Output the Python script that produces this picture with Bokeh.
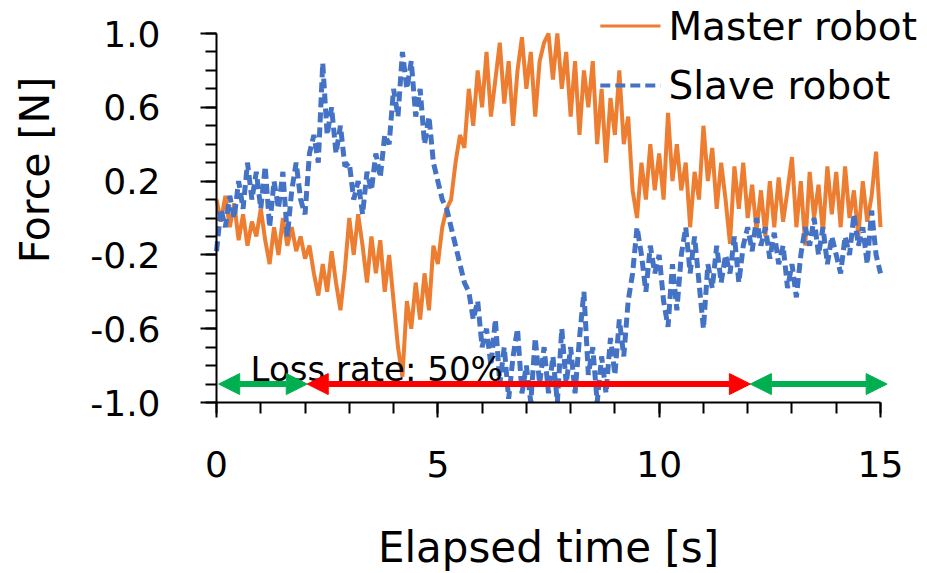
import math
from bokeh.plotting import figure
from bokeh.models import (Range1d, FixedTicker, Arrow, NormalHead, Label, LinearAxis,
                          ColumnDataSource)
from bokeh.core.properties import value
from bokeh.embed import file_html
from bokeh.resources import INLINE

# ---------------- data ----------------
time_s = [round(i * 0.1, 1) for i in range(151)]

master_force = [
    0.10, -0.02, 0.12, -0.05, 0.08, -0.12, 0.02, -0.15, -0.02, -0.10,
    0.05, -0.12, -0.25, -0.05, -0.20, 0.00, -0.15, -0.05, -0.18, -0.10,
    -0.22, -0.15, -0.30, -0.42, -0.25, -0.40, -0.18, -0.35, -0.50, -0.28,
    0.00, -0.20, 0.02, -0.15, -0.35, -0.10, -0.30, -0.12, -0.40, -0.20,
    -0.45, -0.70, -0.86, -0.45, -0.60, -0.35, -0.55, -0.30, -0.50, -0.15,
    -0.25, -0.05, 0.05, 0.10, 0.30, 0.45, 0.38, 0.70, 0.50, 0.80,
    0.60, 0.90, 0.55, 0.75, 0.95, 0.62, 0.85, 0.50, 0.80, 0.98,
    0.70, 0.90, 0.55, 0.85, 0.95, 1.00, 0.75, 1.00, 0.70, 0.90,
    0.55, 0.85, 0.45, 0.80, 0.60, 0.85, 0.40, 0.70, 0.30, 0.65,
    0.45, 0.80, 0.40, 0.55, 0.15, 0.00, 0.30, 0.10, 0.40, 0.15,
    0.35, 0.10, 0.57, 0.20, 0.40, 0.15, 0.30, -0.05, 0.25, 0.10,
    0.50, 0.20, 0.38, 0.05, 0.30, 0.10, -0.14, 0.28, 0.05, 0.30,
    0.00, 0.18, -0.07, 0.15, -0.10, 0.20, -0.05, 0.22, -0.02, 0.15,
    0.33, -0.05, 0.20, -0.15, 0.25, 0.00, 0.18, -0.08, 0.28, 0.02,
    0.25, -0.05, 0.28, 0.00, 0.15, -0.10, 0.20, -0.02, 0.12, 0.36,
    -0.05,
]

slave_force = [
    -0.18, 0.05, -0.05, 0.12, 0.00, 0.20, 0.05, 0.30, 0.10, 0.25,
    0.05, 0.28, -0.05, 0.20, 0.05, 0.25, -0.10, 0.15, 0.30, 0.10,
    0.02, 0.35, 0.45, 0.30, 0.84, 0.45, 0.60, 0.35, 0.50, 0.28,
    0.30, 0.10, 0.20, 0.02, 0.25, 0.15, 0.35, 0.22, 0.45, 0.40,
    0.70, 0.55, 0.90, 0.70, 0.85, 0.55, 0.70, 0.40, 0.55, 0.30,
    0.20, 0.10, 0.05, -0.05, -0.15, -0.25, -0.35, -0.40, -0.55, -0.45,
    -0.70, -0.60, -0.80, -0.55, -0.90, -0.70, -0.98, -0.75, -0.60, -0.95,
    -0.80, -1.00, -0.65, -0.90, -0.70, -0.95, -0.75, -1.00, -0.60, -0.90,
    -0.70, -0.95, -0.65, -0.40, -0.85, -0.70, -1.00, -0.75, -0.95, -0.65,
    -0.85, -0.55, -0.75, -0.45, -0.30, -0.05, -0.20, -0.40, -0.15, -0.30,
    -0.20, -0.45, -0.59, -0.25, -0.50, -0.20, -0.05, -0.30, -0.10, -0.35,
    -0.60, -0.25, -0.38, -0.15, -0.35, -0.20, -0.30, -0.10, -0.35, -0.15,
    -0.05, -0.18, 0.00, -0.15, -0.05, -0.22, -0.08, -0.25, -0.15, -0.38,
    -0.25, -0.43, -0.20, -0.05, -0.15, 0.00, -0.20, -0.05, -0.25, -0.10,
    -0.20, -0.30, -0.10, -0.20, 0.02, -0.15, -0.05, -0.25, 0.04, -0.20,
    -0.30,
]

series_names = ["Master robot", "Slave robot"]
series_colors = ["#ED7D31", "#4472C4"]

x_limits = (0, 15)
y_limits = (-1.0, 1.0)
x_major_ticks = [0, 5, 10, 15]
x_minor_ticks = list(range(0, 16))
y_major_ticks = [-1.0, -0.6, -0.2, 0.2, 0.6, 1.0]
y_tick_labels = ["-1.0", "-0.6", "-0.2", "0.2", "0.6", "1.0"]
y_minor_ticks = [round(-1.0 + 0.1 * i, 1) for i in range(21)]

# phases: normal / loss / normal
phase_bounds = [0.05, 2.05, 12.06, 15.15]
phase_colors = ["#00B050", "#FF0000", "#00B050"]
arrow_level = -0.9
annotation_text = "Loss rate: 50%"

FONT = "DejaVu Sans"

# ---------------- layout ----------------
W, H = 927, 573
AX_L, AX_R, AX_T, AX_B = 216, 880, 33, 402          # pixel box of the axes
sx = (AX_R - AX_L) / (x_limits[1] - x_limits[0])
sy = (AX_B - AX_T) / (y_limits[1] - y_limits[0])
xr = Range1d(x_limits[0] - AX_L / sx, x_limits[1] + (W - AX_R) / sx)
yr = Range1d(y_limits[0] - (H - AX_B) / sy, y_limits[1] + AX_T / sy)

p = figure(width=W, height=H, output_backend="svg", toolbar_location=None,
           x_range=xr, y_range=yr, x_axis_location=None, y_axis_location=None,
           min_border=0)
p.outline_line_color = None
p.xgrid.visible = False
p.ygrid.visible = False
p.background_fill_color = "white"
p.border_fill_color = "white"

src = ColumnDataSource(dict(t=time_s, m=master_force, s=slave_force))
p.line("t", "m", source=src, line_color=series_colors[0], line_width=4)
p.line("t", "s", source=src, line_color=series_colors[1], line_width=5,
       line_dash="10 5")

# axes, pinned to the data box
xaxis = LinearAxis(fixed_location=y_limits[0], bounds=x_limits,
                   ticker=FixedTicker(ticks=x_major_ticks, minor_ticks=x_minor_ticks))
yaxis = LinearAxis(fixed_location=x_limits[0], bounds=y_limits,
                   ticker=FixedTicker(ticks=y_major_ticks, minor_ticks=y_minor_ticks))
yaxis.major_label_overrides = {t: l for t, l in zip(y_major_ticks, y_tick_labels)}
for ax in (xaxis, yaxis):
    ax.axis_line_width = 2
    ax.axis_line_color = "black"
    ax.major_tick_line_width = 2
    ax.minor_tick_line_width = 2
    ax.major_tick_line_color = "black"
    ax.minor_tick_line_color = "black"
    ax.major_tick_in = 0
    ax.minor_tick_in = 0
    ax.major_label_text_font = FONT
    ax.major_label_text_font_size = "36px"
    ax.major_label_text_color = "black"
    ax.axis_label_text_font = FONT
    ax.axis_label_text_font_style = "normal"
    ax.axis_label_text_color = "black"
xaxis.major_tick_out = 15
xaxis.minor_tick_out = 11
yaxis.major_tick_out = 16
yaxis.minor_tick_out = 11
xaxis.major_label_standoff = 33
yaxis.major_label_standoff = 40
xaxis.axis_label = "Elapsed time [s]"
xaxis.axis_label_text_font_size = "42px"
xaxis.axis_label_standoff = 43
p.add_layout(xaxis, "below")
p.add_layout(yaxis, "left")

# y axis title
p.add_layout(Label(x=-4.1, y=0.26, text="Force [N]", angle=math.pi / 2,
                   text_font=FONT, text_font_size="41px", text_color="black",
                   text_align="center", text_baseline="middle"))

# arrows
for i in range(3):
    c = phase_colors[i]
    p.add_layout(Arrow(
        x_start=phase_bounds[i], y_start=arrow_level,
        x_end=phase_bounds[i + 1], y_end=arrow_level,
        line_color=c, line_width=6,
        start=NormalHead(size=21, fill_color=c, line_color=c, line_width=1),
        end=NormalHead(size=21, fill_color=c, line_color=c, line_width=1)))

p.text(x=[0.77], y=[-0.816], text=[annotation_text],
       text_font=value(FONT), text_font_size="34px", text_color="black",
       text_baseline="alphabetic", text_align="left")

# legend
legend_rows_y = [1.04, 0.718]
legend_dashes = ["solid", "10 5"]
legend_widths = [3, 4]
for name, col, ly, dash, lw in zip(series_names, series_colors, legend_rows_y,
                                   legend_dashes, legend_widths):
    p.add_layout(Arrow(x_start=8.67, y_start=ly, x_end=10.03, y_end=ly,
                       line_color=col, line_width=lw, line_dash=dash,
                       start=None, end=None))
    p.add_layout(Label(x=10.21, y=ly, text=name, text_font=FONT,
                       text_font_size="39px", text_color="black",
                       text_align="left", text_baseline="middle"))

open("out.html", "w").write(file_html(p, INLINE))
